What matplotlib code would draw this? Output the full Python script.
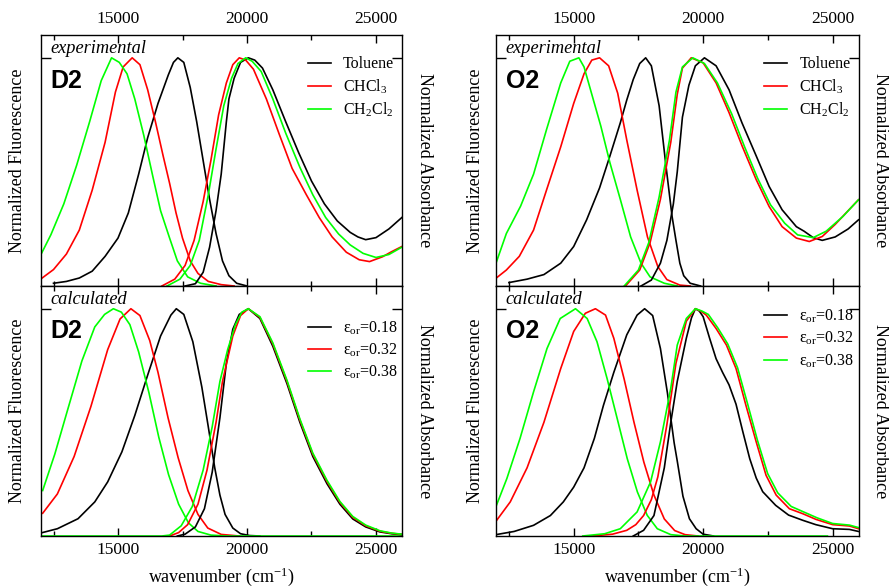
import matplotlib
matplotlib.use('Agg')
import matplotlib.pyplot as plt
from matplotlib.ticker import MultipleLocator

plt.rcParams['font.family'] = ['Liberation Serif', 'DejaVu Serif']
plt.rcParams['mathtext.fontset'] = 'custom'
plt.rcParams['mathtext.rm'] = 'Liberation Serif'
plt.rcParams['mathtext.it'] = 'Liberation Serif:italic'

BLK = 'black'
RED = '#ff0000'
GRN = '#00ff00'

# ---- D2, experimental ----
d2e_tol_em_x = [12500, 13000, 13500, 14000, 14500, 15000, 15400, 15800, 16150, 16550, 16950, 17150,
                17320, 17550, 17800, 18050, 18300, 18550, 18800, 19050, 19300, 19600, 20000]
d2e_tol_em_y = [0.012, 0.02, 0.035, 0.065, 0.13, 0.21, 0.32, 0.49, 0.65, 0.80, 0.925, 0.98,
                1.0, 0.98, 0.87, 0.72, 0.55, 0.38, 0.23, 0.11, 0.045, 0.012, 0.0]
d2e_chcl3_em_x = [12000, 12500, 13000, 13500, 14000, 14500, 14900, 15200, 15550, 15850, 16150,
                  16450, 16750, 17000, 17250, 17500, 17800, 18100, 18500, 19000, 19500]
d2e_chcl3_em_y = [0.03, 0.072, 0.14, 0.245, 0.42, 0.63, 0.85, 0.96, 1.0, 0.97, 0.86,
                  0.72, 0.57, 0.45, 0.32, 0.21, 0.11, 0.055, 0.02, 0.006, 0.0]
d2e_ch2cl2_em_x = [12000, 12400, 12900, 13400, 13900, 14350, 14750, 15050, 15350, 15650, 16000,
                   16350, 16650, 17000, 17300, 17700, 18200, 18800]
d2e_ch2cl2_em_y = [0.135, 0.225, 0.36, 0.53, 0.72, 0.90, 1.0, 0.98, 0.93, 0.82, 0.66,
                   0.48, 0.33, 0.21, 0.11, 0.04, 0.012, 0.0]
d2e_tol_ab_x = [17600, 18000, 18300, 18550, 18800, 19000, 19200, 19300, 19500, 19750, 20050, 20300,
                20600, 21000, 21500, 22000, 22500, 23000, 23500, 23850, 24000, 24300, 24600, 25000,
                25500, 26000]
d2e_tol_ab_y = [0.0, 0.01, 0.06, 0.17, 0.33, 0.49, 0.72, 0.82, 0.91, 0.98, 1.0, 0.99,
                0.955, 0.86, 0.72, 0.585, 0.46, 0.36, 0.285, 0.25, 0.235, 0.215, 0.203, 0.212,
                0.25, 0.30]
d2e_chcl3_ab_x = [16700, 17200, 17600, 17950, 18300, 18600, 18900, 19200, 19450, 19700, 19950,
                  20250, 20750, 21250, 21750, 22300, 22800, 23300, 23850, 24350, 24750, 25250,
                  25600, 26000]
d2e_chcl3_ab_y = [0.0, 0.03, 0.09, 0.20, 0.37, 0.55, 0.75, 0.89, 0.97, 1.0, 0.99,
                  0.95, 0.82, 0.665, 0.515, 0.40, 0.30, 0.215, 0.148, 0.115, 0.107, 0.128,
                  0.15, 0.173]
d2e_ch2cl2_ab_x = [16900, 17400, 17800, 18150, 18500, 18800, 19100, 19400, 19650, 19950, 20200,
                   20550, 21000, 21500, 22050, 22550, 23050, 23550, 24000, 24500, 25000, 25500,
                   26000]
d2e_ch2cl2_ab_y = [0.0, 0.03, 0.09, 0.20, 0.40, 0.60, 0.79, 0.91, 0.975, 1.0, 0.985,
                   0.94, 0.82, 0.67, 0.52, 0.40, 0.30, 0.228, 0.18, 0.143, 0.125, 0.138,
                   0.17]

# ---- O2, experimental ----
o2e_tol_em_x = [12500, 13200, 13850, 14500, 15000, 15500, 16000, 16400, 16800, 17050, 17300,
                17550, 17780, 18000, 18300, 18550, 18800, 18950, 19100, 19250, 19500, 19900]
o2e_tol_em_y = [0.015, 0.03, 0.05, 0.10, 0.173, 0.29, 0.43, 0.57, 0.715, 0.815, 0.905,
                0.975, 1.0, 0.965, 0.79, 0.54, 0.305, 0.20, 0.10, 0.045, 0.012, 0.0]
o2e_chcl3_em_x = [12000, 12400, 12900, 13450, 13950, 14500, 15000, 15400, 15700, 16000, 16350,
                  16700, 17050, 17450, 17850, 18250, 18600, 19100, 19500]
o2e_chcl3_em_y = [0.034, 0.07, 0.13, 0.245, 0.42, 0.61, 0.80, 0.93, 0.99, 1.0, 0.965,
                  0.845, 0.64, 0.42, 0.215, 0.085, 0.028, 0.004, 0.0]
o2e_ch2cl2_em_x = [12000, 12400, 12950, 13450, 13950, 14500, 14850, 15200, 15400, 15650, 16050,
                   16400, 16800, 17200, 17600, 17950, 18500, 19000]
o2e_ch2cl2_em_y = [0.10, 0.23, 0.35, 0.49, 0.685, 0.89, 0.985, 1.0, 0.96, 0.86, 0.70,
                   0.54, 0.38, 0.215, 0.10, 0.04, 0.012, 0.0]
o2e_tol_ab_x = [17600, 18000, 18350, 18600, 18850, 19000, 19200, 19450, 19700, 20050, 20500,
                21000, 21500, 22050, 22550, 23050, 23600, 23900, 24250, 24600, 25100, 25600,
                26000]
o2e_tol_ab_y = [0.0, 0.026, 0.10, 0.20, 0.36, 0.50, 0.74, 0.88, 0.965, 1.0, 0.965,
                0.86, 0.715, 0.57, 0.436, 0.334, 0.26, 0.24, 0.212, 0.20, 0.215, 0.25,
                0.29]
o2e_chcl3_ab_x = [17000, 17550, 17950, 18350, 18750, 19000, 19200, 19540, 20000, 20500, 21000,
                  21500, 22050, 22550, 23050, 23600, 24100, 24600, 25100, 25600, 26000]
o2e_chcl3_ab_y = [0.0, 0.07, 0.19, 0.38, 0.63, 0.84, 0.955, 1.0, 0.978, 0.89, 0.76,
                  0.615, 0.466, 0.348, 0.26, 0.21, 0.195, 0.217, 0.27, 0.33, 0.378]
o2e_ch2cl2_ab_x = [16950, 17500, 17900, 18300, 18700, 18950, 19200, 19600, 20050, 20550, 21100,
                   21600, 22100, 22600, 23150, 23650, 24250, 24750, 25400, 26000]
o2e_ch2cl2_ab_y = [0.0, 0.07, 0.19, 0.39, 0.64, 0.85, 0.96, 1.0, 0.975, 0.89, 0.755,
                   0.61, 0.473, 0.356, 0.275, 0.224, 0.212, 0.24, 0.305, 0.378]

# ---- D2, calculated ----
d2c_018_em_x = [12000, 12650, 13450, 14100, 14600, 15150, 15650, 16150, 16650, 17050, 17260,
                17550, 17900, 18250, 18500, 18750, 18950, 19150, 19450, 19750, 20100, 20500]
d2c_018_em_y = [0.013, 0.032, 0.076, 0.15, 0.238, 0.37, 0.53, 0.708, 0.88, 0.972, 1.0,
                0.975, 0.855, 0.655, 0.48, 0.30, 0.18, 0.095, 0.035, 0.01, 0.002, 0.0]
d2c_032_em_x = [12080, 12650, 13300, 13950, 14600, 15080, 15500, 15850, 16230, 16550, 16940,
                17330, 17710, 18100, 18480, 19000, 19700]
d2c_032_em_y = [0.10, 0.185, 0.35, 0.57, 0.82, 0.955, 1.0, 0.97, 0.86, 0.72, 0.52,
                0.345, 0.20, 0.095, 0.035, 0.007, 0.0]
d2c_038_em_x = [12080, 12550, 13060, 13600, 14100, 14480, 14820, 15130, 15460, 15800, 16200,
                16580, 16960, 17350, 17730, 18100, 18600, 19200, 26000]
d2c_038_em_y = [0.20, 0.36, 0.56, 0.77, 0.92, 0.975, 1.0, 0.985, 0.93, 0.81, 0.63,
                0.435, 0.27, 0.14, 0.058, 0.02, 0.004, 0.0, 0.0]
d2c_018_ab_x = [17300, 17600, 18000, 18350, 18650, 18950, 19200, 19450, 19700, 20050, 20500,
                21000, 21550, 22050, 22550, 23100, 23600, 24100, 24600, 25150, 25600, 26000]
d2c_018_ab_y = [0.0, 0.008, 0.04, 0.12, 0.28, 0.52, 0.76, 0.91, 0.975, 1.0, 0.957,
                0.835, 0.67, 0.50, 0.35, 0.23, 0.14, 0.075, 0.04, 0.018, 0.01, 0.006]
d2c_032_ab_x = [17000, 17350, 17700, 18100, 18450, 18800, 19050, 19450, 19750, 20050, 20500,
                21000, 21550, 22050, 22550, 23100, 23600, 24100, 24600, 25150, 25600, 26000]
d2c_032_ab_y = [0.0, 0.015, 0.05, 0.14, 0.29, 0.50, 0.68, 0.88, 0.97, 1.0, 0.962,
                0.845, 0.68, 0.51, 0.36, 0.24, 0.148, 0.082, 0.045, 0.021, 0.012, 0.007]
d2c_038_ab_x = [12080, 16700, 17000, 17450, 17880, 18300, 18650, 18950, 19250, 19550, 19800,
                20050, 20500, 21000, 21550, 22050, 22550, 23100, 23600, 24100, 24600, 25150,
                25600, 26000]
d2c_038_ab_y = [0.0, 0.0, 0.004, 0.045, 0.13, 0.29, 0.48, 0.68, 0.82, 0.93, 0.985,
                1.0, 0.965, 0.85, 0.685, 0.515, 0.365, 0.245, 0.152, 0.086, 0.048, 0.023,
                0.013, 0.008]

# ---- O2, calculated ----
o2c_018_em_x = [12000, 12700, 13450, 14100, 14600, 15000, 15400, 15800, 16150, 16550, 17050,
                17450, 17740, 18050, 18350, 18620, 18880, 19000, 19220, 19470, 19730, 20000, 20400]
o2c_018_em_y = [0.006, 0.02, 0.047, 0.09, 0.15, 0.215, 0.30, 0.43, 0.575, 0.72, 0.885,
                0.972, 1.0, 0.97, 0.825, 0.63, 0.41, 0.33, 0.175, 0.076, 0.032, 0.008, 0.0]
o2c_032_em_x = [12000, 12550, 13200, 13850, 14500, 15000, 15450, 15840, 16230, 16550, 16950,
                17330, 17710, 18100, 18500, 18900, 19300, 19800]
o2c_032_em_y = [0.065, 0.15, 0.30, 0.50, 0.737, 0.90, 0.98, 1.0, 0.972, 0.87, 0.69,
                0.50, 0.325, 0.18, 0.075, 0.024, 0.006, 0.0]
o2c_038_em_x = [12000, 12420, 12930, 13450, 13970, 14480, 15070, 15520, 15900, 16290, 16680,
                17070, 17460, 17840, 18230, 18750, 19300, 24800]
o2c_038_em_y = [0.13, 0.253, 0.43, 0.634, 0.825, 0.957, 1.0, 0.957, 0.855, 0.693, 0.517,
                0.34, 0.194, 0.091, 0.032, 0.006, 0.0, 0.0]
o2c_018_ab_x = [17300, 17700, 18100, 18500, 18750, 19000, 19350, 19550, 19700, 19850, 20000,
                20250, 20500, 20750, 21000, 21270, 21530, 21800, 22050, 22300, 22800, 23300,
                23850, 24350, 25000, 25650, 26000]
o2c_018_ab_y = [0.0, 0.025, 0.09, 0.30, 0.50, 0.68, 0.87, 0.96, 1.0, 0.99, 0.965,
                0.87, 0.78, 0.72, 0.665, 0.58, 0.46, 0.34, 0.255, 0.195, 0.135, 0.092,
                0.069, 0.05, 0.032, 0.029, 0.02]
o2c_032_ab_x = [15700, 16500, 17050, 17400, 17700, 18000, 18250, 18600, 18950, 19350, 19700,
                19900, 20120, 20500, 20900, 21270, 21650, 22050, 22430, 22820, 23330, 23850,
                24360, 25000, 25650, 26000]
o2c_032_ab_y = [0.0, 0.008, 0.025, 0.05, 0.09, 0.16, 0.26, 0.49, 0.76, 0.945, 1.0,
                0.99, 0.972, 0.913, 0.84, 0.737, 0.576, 0.414, 0.267, 0.18, 0.12, 0.098,
                0.073, 0.05, 0.044, 0.032]
o2c_038_ab_x = [15350, 16200, 16800, 17450, 17970, 18350, 18750, 19000, 19350, 19700, 19950,
                20200, 20570, 20950, 21330, 21720, 22100, 22490, 22880, 23400, 23900, 24400,
                25000, 25650, 26000]
o2c_038_ab_y = [0.0, 0.01, 0.032, 0.106, 0.238, 0.414, 0.65, 0.84, 0.957, 1.0, 0.99,
                0.975, 0.915, 0.845, 0.74, 0.58, 0.42, 0.275, 0.19, 0.13, 0.105, 0.08,
                0.055, 0.048, 0.037]

exp_labels = ['Toluene', 'CHCl$_3$', 'CH$_2$Cl$_2$']
calc_labels = ['ε$_{\\rm or}$=0.18', 'ε$_{\\rm or}$=0.32', 'ε$_{\\rm or}$=0.38']
colors = [BLK, RED, GRN]


def setup(ax, top):
    ax.set_xlim(12000, 26000)
    ax.set_ylim(0, 1.1)
    ax.xaxis.set_major_locator(MultipleLocator(5000))
    ax.xaxis.set_minor_locator(MultipleLocator(2500))
    ax.set_yticks([1.0])
    ax.tick_params(which='both', direction='in', top=True, bottom=True, left=True, right=True,
                   labelleft=False, labelright=False, width=1.0, labelsize=12.5)
    ax.tick_params(axis='x', which='major', length=6, pad=6 if top else 4)
    ax.tick_params(axis='x', which='minor', length=3.5)
    ax.tick_params(axis='y', which='major', length=7)
    ax.tick_params(axis='x', labeltop=top, labelbottom=not top)
    for s in ax.spines.values():
        s.set_linewidth(1.0)


def draw(ax, ems, abss, labels, name, tag, leg_y):
    for (x, y), c in zip(ems, colors):
        ax.plot(x, y, color=c, lw=1.2)
    hs = []
    for (x, y), c in zip(abss, colors):
        h, = ax.plot(x, y, color=c, lw=1.2)
        hs.append(h)
    ax.legend(hs, labels, loc='upper left', bbox_to_anchor=(0.74, leg_y), frameon=False,
              fontsize=11.5, handlelength=1.45, handletextpad=0.75, borderpad=0,
              borderaxespad=0, labelspacing=0.3)
    ax.text(0.028, 0.818, name, transform=ax.transAxes, ha='left', va='center',
            fontsize=18, fontweight='bold', family='Liberation Sans')
    ax.text(0.027, 0.948, tag, transform=ax.transAxes, ha='left', va='center',
            fontsize=13.2, style='italic')


fig = plt.figure(figsize=(8.89, 5.87), dpi=100)
W, H = 889.0, 587.0

cols = [(40.6, 401.8), (496.0, 858.5)]
rows = [(35.0, 286.0), (286.0, 536.0)]

axes = {}
for ci, (x0, x1) in enumerate(cols):
    for ri, (y0, y1) in enumerate(rows):
        ax = fig.add_axes([x0 / W, 1 - y1 / H, (x1 - x0) / W, (y1 - y0) / H])
        setup(ax, ri == 0)
        axes[(ri, ci)] = ax

draw(axes[(0, 0)],
     [(d2e_tol_em_x, d2e_tol_em_y), (d2e_chcl3_em_x, d2e_chcl3_em_y), (d2e_ch2cl2_em_x, d2e_ch2cl2_em_y)],
     [(d2e_tol_ab_x, d2e_tol_ab_y), (d2e_chcl3_ab_x, d2e_chcl3_ab_y), (d2e_ch2cl2_ab_x, d2e_ch2cl2_ab_y)],
     exp_labels, 'D2', 'experimental', 0.915)
draw(axes[(0, 1)],
     [(o2e_tol_em_x, o2e_tol_em_y), (o2e_chcl3_em_x, o2e_chcl3_em_y), (o2e_ch2cl2_em_x, o2e_ch2cl2_em_y)],
     [(o2e_tol_ab_x, o2e_tol_ab_y), (o2e_chcl3_ab_x, o2e_chcl3_ab_y), (o2e_ch2cl2_ab_x, o2e_ch2cl2_ab_y)],
     exp_labels, 'O2', 'experimental', 0.915)
draw(axes[(1, 0)],
     [(d2c_018_em_x, d2c_018_em_y), (d2c_032_em_x, d2c_032_em_y), (d2c_038_em_x, d2c_038_em_y)],
     [(d2c_018_ab_x, d2c_018_ab_y), (d2c_032_ab_x, d2c_032_ab_y), (d2c_038_ab_x, d2c_038_ab_y)],
     calc_labels, 'D2', 'calculated', 0.866)
draw(axes[(1, 1)],
     [(o2c_018_em_x, o2c_018_em_y), (o2c_032_em_x, o2c_032_em_y), (o2c_038_em_x, o2c_038_em_y)],
     [(o2c_018_ab_x, o2c_018_ab_y), (o2c_032_ab_x, o2c_032_ab_y), (o2c_038_ab_x, o2c_038_ab_y)],
     calc_labels, 'O2', 'calculated', 0.913)

# side labels and x labels
for lx, rx, (x0, x1) in [(18, 425, cols[0]), (475, 880, cols[1])]:
    for (y0, y1) in rows:
        yc = 1 - (y0 + y1) / 2 / H
        fig.text(lx / W, yc, 'Normalized Fluorescence', rotation=90, ha='center', va='center',
                 fontsize=13)
        fig.text(rx / W, yc, 'Normalized Absorbance', rotation=270, ha='center', va='center',
                 fontsize=13)
    fig.text((x0 + x1) / 2 / W, 1 - 577 / H, 'wavenumber (cm$^{-1}$)', ha='center', va='center',
             fontsize=13)

fig.savefig('out.png', dpi=100)
